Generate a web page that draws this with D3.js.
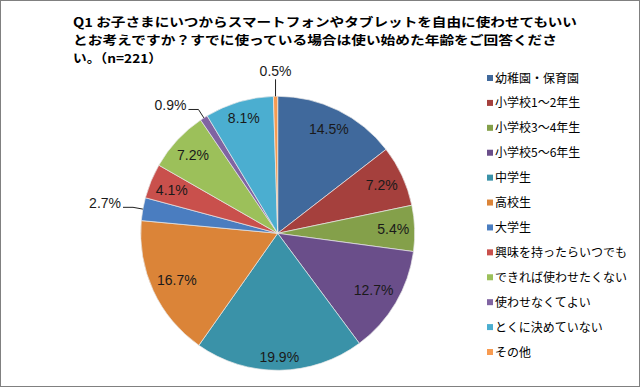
<!DOCTYPE html>
<html><head><meta charset="utf-8">
<script src="https://cdn.jsdelivr.net/npm/d3@7"></script>
<style>body{margin:0;background:#fff}svg{display:block}</style>
</head><body>
<svg id="c" width="640" height="388"></svg>
<script>
const categories = ["幼稚園・保育園","小学校1～2年生","小学校3～4年生","小学校5～6年生","中学生","高校生","大学生","興味を持ったらいつでも","できれば使わせたくない","使わせなくてよい","とくに決めていない","その他"];
const values = [14.5, 7.2, 5.4, 12.7, 19.9, 16.7, 2.7, 4.1, 7.2, 0.9, 8.1, 0.5];
const colors = ["#40699c","#a5403d","#84a04a","#6a4e8a","#3a92a8","#db8438","#4a7dc0","#c9504c","#9cc05a","#8064a2","#4baed0","#f89b50"];
const titleLines = ["Q1 お子さまにいつからスマートフォンやタブレットを自由に使わせてもいい","とお考えですか？すでに使っている場合は使い始めた年齢をご回答くださ","い。（n=221）"];

const svg = d3.select("#c");
svg.append("rect").attr("x",0.5).attr("y",0.5).attr("width",639).attr("height",386)
  .attr("fill","#fff").attr("stroke","#808080").attr("stroke-width",1);

// title
const tl = [504, 484, 89];
const by = [27, 45, 63];
titleLines.forEach((t,i)=>{
  svg.append("text").attr("x",73).attr("y",by[i])
    .attr("font-family","'Noto Sans CJK JP', sans-serif").attr("font-weight","bold")
    .attr("font-size",12.4).attr("fill","#000")
    .attr("textLength",tl[i]).attr("lengthAdjust","spacingAndGlyphs").text(t);
});

const cx = 277.7, cy = 233.3, R = 137;
const data = categories.map((c,i)=>({cat:c,v:values[i],col:colors[i]}));
const pie = d3.pie().sort(null).value(d=>d.v);
const arcs = pie(data);
const arc = d3.arc().innerRadius(0).outerRadius(R);
const g = svg.append("g").attr("transform",`translate(${cx},${cy})`);
g.selectAll("path").data(arcs).join("path")
  .attr("d",arc).attr("fill",d=>d.data.col)
  .attr("stroke","#e8e8e8").attr("stroke-width",0.7);

const fmt = d=>d.toFixed(1)+"%";
const lab = g.append("g").attr("font-family","'Liberation Sans', Arial, sans-serif")
  .attr("font-size",14).attr("fill","#1a1a1a");
arcs.forEach(a=>{
  const th = (a.startAngle+a.endAngle)/2;
  const s = Math.sin(th), c = Math.cos(th);
  const t = lab.append("text").text(fmt(a.data.v));
  const w = t.node().getComputedTextLength()/2;
  if (a.data.v >= 3) {
    const h = 7, Rp = R - 5;
    const b = w*Math.abs(s) + h*Math.abs(c);
    const rho = -b + Math.sqrt(b*b - (w*w + h*h - Rp*Rp));
    t.attr("x", rho*s).attr("y", -rho*c + 5).attr("text-anchor","middle");
  } else {
    const ex = R*s, ey = -R*c;
    if (Math.abs(s) < 0.1) {
      const ly = -(R+17);
      g.append("path").attr("d",`M${ex},${ey}L${ex},${ly}`).attr("stroke","#222").attr("fill","none").attr("stroke-width",1);
      t.attr("x",ex).attr("y",ly-3).attr("text-anchor","middle");
    } else {
      const bx = (R+10)*s, byy = -(R+10)*c;
      const dir = s<0?-1:1;
      const hx = bx + dir*10;
      g.append("path").attr("d",`M${ex},${ey}L${bx},${byy}L${hx},${byy}`).attr("stroke","#222").attr("fill","none").attr("stroke-width",1);
      t.attr("x",hx + dir*2).attr("y",byy+1).attr("text-anchor",dir<0?"end":"start");
    }
  }
});

// legend
const ly = d3.scalePoint().domain(categories).range([78, 352]);
const lg = svg.append("g");
data.forEach(d=>{
  const y = ly(d.cat);
  lg.append("rect").attr("x",487).attr("y",y-3).attr("width",6).attr("height",6).attr("fill",d.col);
  lg.append("text").attr("x",495).attr("y",y+4.5)
    .attr("font-family","'Noto Sans CJK JP', sans-serif").attr("font-size",12).attr("fill","#000")
    .text(d.cat);
});
</script>
</body></html>
